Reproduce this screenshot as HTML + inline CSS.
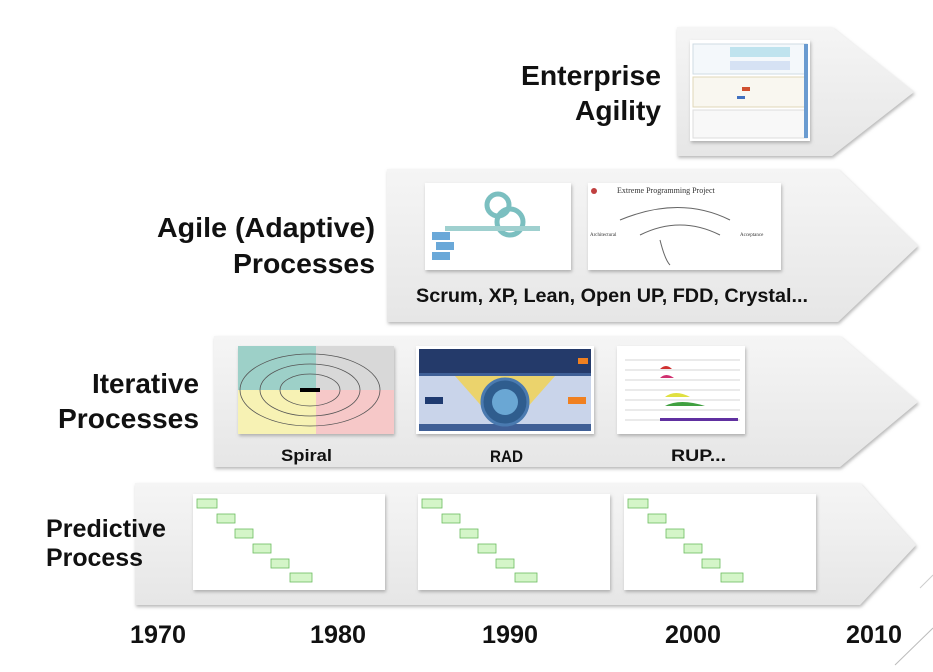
<!DOCTYPE html>
<html><head><meta charset="utf-8"><style>
html,body{margin:0;padding:0;background:#fff;}
svg{display:block;font-family:"Liberation Sans",Arial,sans-serif;}
</style></head><body>
<svg width="933" height="672" viewBox="0 0 933 672" xmlns="http://www.w3.org/2000/svg">
<defs>
<linearGradient id="g" x1="0" y1="0" x2="0" y2="1">
<stop offset="0" stop-color="#f5f5f5"/><stop offset="1" stop-color="#e6e6e6"/></linearGradient>
<filter id="sh" x="-5%" y="-5%" width="110%" height="115%"><feDropShadow dx="1" dy="2" stdDeviation="1.5" flood-color="#888" flood-opacity="0.6"/></filter>
</defs>
<polygon points="677,27 832,27 914,92 832,156 677,156" fill="url(#g)" filter="url(#sh)"/>
<polygon points="387,169 838,169 918,246 838,322 387,322" fill="url(#g)" filter="url(#sh)"/>
<polygon points="214,336 840,336 918,402 840,467 214,467" fill="url(#g)" filter="url(#sh)"/>
<polygon points="135,483 860,483 916,545 860,605 135,605" fill="url(#g)" filter="url(#sh)"/>
<line x1="933" y1="628" x2="895" y2="665" stroke="#bbb" stroke-width="1"/>
<line x1="933" y1="575" x2="920" y2="588" stroke="#ccc" stroke-width="1"/>

<g filter="url(#sh)"><rect x="690" y="40" width="120" height="101" fill="#fff"/></g>
<rect x="693" y="44" width="114" height="30" fill="#f4f8fb" stroke="#cfdbe3"/>
<rect x="730" y="47" width="60" height="10" fill="#bfe3ee"/><rect x="730" y="61" width="60" height="9" fill="#d6e2f4"/>
<rect x="693" y="77" width="114" height="30" fill="#f9f7f0" stroke="#e0d7b8"/>
<rect x="693" y="110" width="114" height="28" fill="#f8f8f8" stroke="#ddd"/>
<rect x="804" y="44" width="4" height="94" fill="#6a9bd0"/>
<rect x="742" y="87" width="8" height="4" fill="#d05030"/><rect x="737" y="96" width="8" height="3" fill="#4070c0"/>

<g filter="url(#sh)"><rect x="425" y="183" width="146" height="87" fill="#fff"/><rect x="588" y="183" width="193" height="87" fill="#fff"/></g>
<circle cx="498" cy="205" r="11" fill="none" stroke="#7bbfc0" stroke-width="5"/>
<circle cx="510" cy="222" r="13" fill="none" stroke="#7bbfc0" stroke-width="5"/>
<rect x="445" y="226" width="95" height="5" fill="#9fd0cf"/>
<rect x="432" y="232" width="18" height="8" fill="#6aa8d8"/><rect x="436" y="242" width="18" height="8" fill="#6aa8d8"/><rect x="432" y="252" width="18" height="8" fill="#6aa8d8"/>
<circle cx="594" cy="191" r="3" fill="#c04040"/>
<text x="617" y="193" font-family="Liberation Serif,serif" font-size="8" fill="#333">Extreme Programming Project</text>
<path d="M620 220 Q680 195 730 220 M640 235 Q680 215 720 235 M660 240 Q665 260 670 265" stroke="#666" fill="none"/>
<text x="590" y="236" font-family="Liberation Serif,serif" font-size="5" fill="#333">Architectural</text>
<text x="740" y="236" font-family="Liberation Serif,serif" font-size="5" fill="#333">Acceptance</text>

<text x="416" y="302" font-size="19" font-weight="bold" fill="#111" textLength="392" lengthAdjust="spacingAndGlyphs">Scrum, XP, Lean, Open UP, FDD, Crystal...</text>

<g filter="url(#sh)"><rect x="238" y="346" width="156" height="88" fill="#fff"/><rect x="416" y="346" width="178" height="88" fill="#fff"/><rect x="617" y="346" width="128" height="88" fill="#fff"/></g>
<rect x="238" y="346" width="78" height="44" fill="#9dd0c8"/><rect x="316" y="346" width="78" height="44" fill="#d8d8d8"/>
<rect x="238" y="390" width="78" height="44" fill="#f7f2b4"/><rect x="316" y="390" width="78" height="44" fill="#f6c8c8"/>
<g fill="none" stroke="#555" stroke-width="0.8"><ellipse cx="310" cy="390" rx="70" ry="36"/><ellipse cx="310" cy="390" rx="50" ry="26"/><ellipse cx="310" cy="390" rx="30" ry="16"/></g>
<rect x="300" y="388" width="20" height="4" fill="#000"/>
<rect x="419" y="349" width="172" height="82" fill="#3f5f96"/>
<rect x="419" y="349" width="172" height="24" fill="#243a6a"/>
<rect x="419" y="376" width="172" height="48" fill="#c9d4ea"/>
<polygon points="455,376 555,376 525,410 485,410" fill="#f4d24c" opacity="0.8"/>
<circle cx="505" cy="402" r="23" fill="#2f5d8e" stroke="#4a7ab0" stroke-width="3"/><circle cx="505" cy="402" r="13" fill="#6aa7d4"/>
<rect x="425" y="397" width="18" height="7" fill="#1e3a70"/><rect x="568" y="397" width="18" height="7" fill="#f08020"/>
<rect x="578" y="358" width="10" height="6" fill="#f08020"/>
<g stroke="#aaa" stroke-width="0.5"><line x1="625" y1="360" x2="740" y2="360"/><line x1="625" y1="370" x2="740" y2="370"/><line x1="625" y1="380" x2="740" y2="380"/><line x1="625" y1="390" x2="740" y2="390"/><line x1="625" y1="400" x2="740" y2="400"/><line x1="625" y1="410" x2="740" y2="410"/><line x1="625" y1="420" x2="740" y2="420"/></g>
<path d="M660 369 q6-6 12 0z" fill="#d03030"/><path d="M660 378 q6-6 14 0z" fill="#d03070"/><path d="M665 397 q10-8 25 0z" fill="#e0e040"/><path d="M665 406 q15-8 40 0z" fill="#40a040"/><rect x="660" y="418" width="78" height="3" fill="#6030a0"/>

<g font-weight="bold" fill="#111" font-size="17">
<text x="281" y="461" textLength="51" lengthAdjust="spacingAndGlyphs">Spiral</text>
<text x="490" y="462" textLength="33" lengthAdjust="spacingAndGlyphs">RAD</text>
<text x="671" y="461" textLength="55" lengthAdjust="spacingAndGlyphs">RUP...</text>
</g>

<g filter="url(#sh)"><rect x="193" y="494" width="192" height="96" fill="#fff"/><rect x="418" y="494" width="192" height="96" fill="#fff"/><rect x="624" y="494" width="192" height="96" fill="#fff"/></g>
<g id="wf" fill="#d4f5c8" stroke="#6bbb60" stroke-width="0.8">
<rect x="197" y="499" width="20" height="9"/><rect x="217" y="514" width="18" height="9"/><rect x="235" y="529" width="18" height="9"/><rect x="253" y="544" width="18" height="9"/><rect x="271" y="559" width="18" height="9"/><rect x="290" y="573" width="22" height="9"/>
</g>
<use href="#wf" x="225"/><use href="#wf" x="431"/>

<g font-weight="bold" fill="#111">
<text x="521" y="85" font-size="28" textLength="140" lengthAdjust="spacingAndGlyphs">Enterprise</text>
<text x="575" y="120" font-size="28" textLength="86" lengthAdjust="spacingAndGlyphs">Agility</text>
<text x="157" y="237" font-size="28" textLength="218" lengthAdjust="spacingAndGlyphs">Agile (Adaptive)</text>
<text x="233" y="273" font-size="28" textLength="142" lengthAdjust="spacingAndGlyphs">Processes</text>
<text x="92" y="393" font-size="28" textLength="107" lengthAdjust="spacingAndGlyphs">Iterative</text>
<text x="58" y="428" font-size="28" textLength="141" lengthAdjust="spacingAndGlyphs">Processes</text>
<text x="46" y="537" font-size="25" textLength="120" lengthAdjust="spacingAndGlyphs">Predictive</text>
<text x="46" y="566" font-size="25" textLength="97" lengthAdjust="spacingAndGlyphs">Process</text>
<text x="130" y="643" font-size="25" textLength="56" lengthAdjust="spacingAndGlyphs">1970</text>
<text x="310" y="643" font-size="25" textLength="56" lengthAdjust="spacingAndGlyphs">1980</text>
<text x="482" y="643" font-size="25" textLength="56" lengthAdjust="spacingAndGlyphs">1990</text>
<text x="665" y="643" font-size="25" textLength="56" lengthAdjust="spacingAndGlyphs">2000</text>
<text x="846" y="643" font-size="25" textLength="56" lengthAdjust="spacingAndGlyphs">2010</text>
</g>
</svg>
</body></html>
